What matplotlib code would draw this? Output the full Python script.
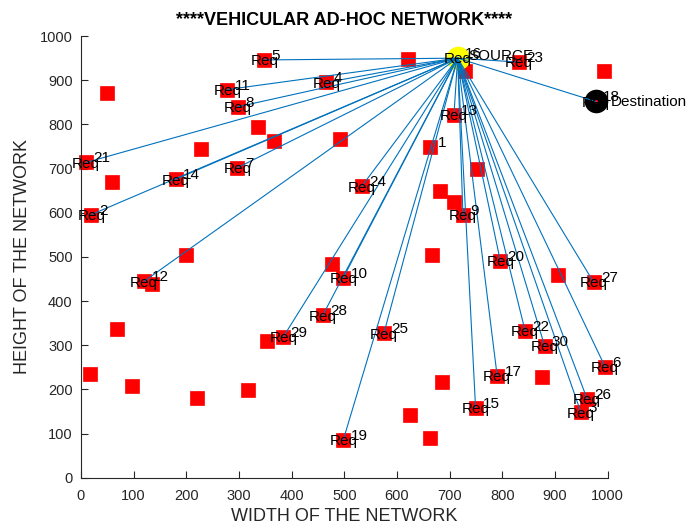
import matplotlib
matplotlib.use('Agg')
import matplotlib.pyplot as plt

plt.rcParams['font.family'] = ['Liberation Sans', 'DejaVu Sans']

# Numbered vehicles (node 1 .. 30)
node_ids = list(range(1, 31))
node_x = [663, 20, 949, 466, 348, 995, 297, 298, 725, 498,
          278, 120, 708, 180, 749, 715, 790, 977, 498, 796,
          10, 843, 831, 533, 575, 961, 973, 459, 384, 880]
node_y = [750, 596, 148, 895, 946, 251, 702, 840, 596, 453,
          879, 445, 822, 676, 159, 950, 231, 852, 86, 491,
          714, 333, 941, 660, 327, 178, 443, 368, 319, 299]

# Unlabelled roadside nodes
extra_x = [621, 729, 993, 50, 337, 366, 228, 59, 492, 682, 752, 708, 667, 906,
           200, 135, 476, 354, 69, 18, 97, 221, 318, 686, 875, 624, 662]
extra_y = [949, 921, 920, 872, 794, 763, 745, 670, 767, 650, 699, 625, 505, 458,
           505, 438, 484, 310, 337, 235, 208, 180, 199, 217, 229, 142, 90]

# Vehicles that sent a request
req_ids = [2, 3, 4, 5, 6, 7, 8, 9, 10, 11, 12, 13, 14, 15, 16, 17, 18, 19, 20,
           21, 22, 23, 24, 25, 26, 27, 28, 29, 30]
source_id = 16
dest_id = 18

fig = plt.figure(figsize=(6.86, 5.29), dpi=100)
ax = fig.add_axes([0.118, 0.0968, 0.768, 0.835])
ax.set_xlim(0, 1000)
ax.set_ylim(0, 1000)

red = '#ff0000'
ax.plot(extra_x, extra_y, 's', color=red, ms=10.5, mec=red, mew=0.5,
        clip_on=False, zorder=2)
ax.plot(node_x, node_y, 's', color=red, ms=10.5, mec=red, mew=0.5,
        clip_on=False, zorder=2)

sx, sy = node_x[source_id - 1], node_y[source_id - 1]
dx, dy = node_x[dest_id - 1], node_y[dest_id - 1]

ax.plot(sx, sy, 'o', ms=16, mfc='#ffff00', mec='#ffff00', zorder=3, clip_on=False)
ax.plot(dx, dy, 'o', ms=16, mfc='black', mec='black', zorder=3, clip_on=False)
ax.plot(dx, dy, 's', ms=1.5, color=red, zorder=3)

for i in req_ids:
    if i == source_id:
        continue
    ax.plot([sx, node_x[i - 1]], [sy, node_y[i - 1]], color='#0072BD',
            lw=0.8, zorder=4, clip_on=False)

fs = 11
for i in node_ids:
    ax.text(node_x[i - 1] + 14, node_y[i - 1] + 9, str(i), fontsize=fs,
            ha='left', va='center', color='black', zorder=5, clip_on=False)
for i in req_ids:
    ax.text(node_x[i - 1], node_y[i - 1] - 3, 'Req', fontsize=fs,
            ha='center', va='center', color='black', zorder=5, clip_on=False)

ax.text(sx + 20, sy + 4, 'SOURCE', fontsize=fs, ha='left', va='center',
        color='black', zorder=5)
ax.text(dx + 28, dy - 2, 'Destination', fontsize=fs, ha='left', va='center',
        color='black', zorder=5)

ax.set_xticks(range(0, 1001, 100))
ax.set_yticks(range(0, 1001, 100))
ax.spines['top'].set_visible(False)
ax.spines['right'].set_visible(False)
for s in ('left', 'bottom'):
    ax.spines[s].set_color('#262626')
    ax.spines[s].set_linewidth(0.8)
ax.tick_params(direction='in', length=5, width=0.8, colors='#262626',
               labelsize=10.5)
ax.tick_params(axis='x', pad=8)
ax.tick_params(axis='y', pad=6)

ax.set_title('****VEHICULAR AD-HOC NETWORK****', fontsize=13, fontweight='bold',
             pad=8)
ax.set_xlabel('WIDTH OF THE NETWORK', fontsize=13, color='#262626', labelpad=4)
ax.set_ylabel('HEIGHT OF THE NETWORK', fontsize=13, color='#262626', labelpad=6)

fig.savefig('out.png', dpi=100)
